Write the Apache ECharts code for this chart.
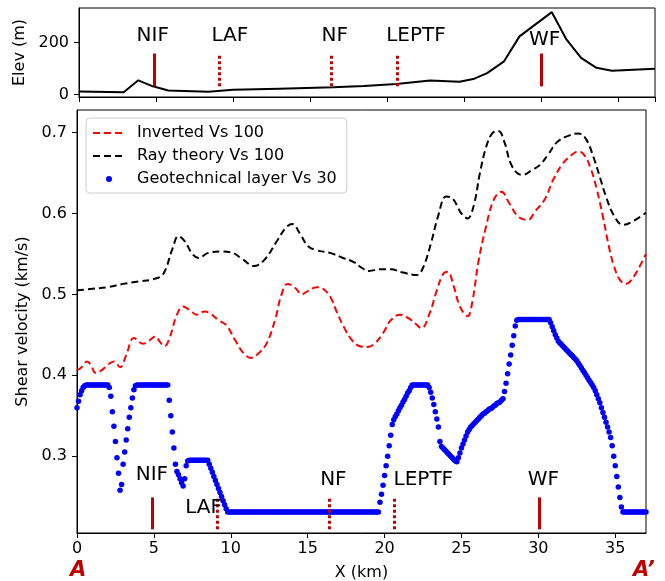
<!DOCTYPE html>
<html><head><meta charset="utf-8">
<script src="https://cdn.jsdelivr.net/npm/echarts@6/dist/echarts.min.js"></script>
<style>html,body{margin:0;padding:0;background:#fff}#c{width:665px;height:581px}</style>
</head><body><div id="c"></div>
<script>
// ---- Elevation profile (top panel) ----
const elevKm = [0, 2.9, 3.85, 4.8, 5.8, 8.4, 10.0, 13.0, 16.5, 18.5, 20.6, 22.8, 24.7, 25.6, 26.5, 27.6, 28.6, 30.7, 31.65, 32.6, 33.6, 34.6, 37.4];
const elevM  = [11, 8, 54, 31, 15, 10, 18, 22, 27, 32, 40, 53, 49, 59, 82, 127, 223, 316, 211, 140, 102, 91, 99];

// ---- Ray theory Vs 100 (black dashed) ----
const rayKm = [0,1,2,3,4,5,5.6,6.2,6.6,7.0,7.5,7.9,8.5,9.3,10.0,10.8,11.5,12.2,13.0,13.6,14.0,14.5,15.0,15.5,16.5,17.3,18.0,18.5,19.0,19.7,20.4,21.2,22.1,22.5,23.0,23.5,24.0,24.4,25.0,25.4,25.8,26.2,26.6,27.0,27.4,27.8,28.2,28.7,29.0,29.6,30.1,30.6,31.2,31.8,32.6,33.1,33.6,34.0,34.4,34.9,35.5,36.2,37.0];
const rayVs = [0.505,0.507,0.509,0.513,0.516,0.519,0.525,0.556,0.572,0.566,0.550,0.545,0.551,0.553,0.552,0.543,0.535,0.543,0.566,0.583,0.587,0.575,0.560,0.555,0.551,0.545,0.540,0.533,0.529,0.531,0.531,0.527,0.524,0.533,0.562,0.598,0.621,0.619,0.600,0.594,0.610,0.650,0.682,0.699,0.702,0.688,0.662,0.649,0.648,0.654,0.660,0.672,0.688,0.695,0.699,0.692,0.669,0.645,0.621,0.598,0.586,0.591,0.601];

// ---- Inverted Vs 100 (red dashed) ----
const invKm = [0,0.3,0.65,0.9,1.2,1.6,2.0,2.4,2.8,3.2,3.7,4.3,4.7,5.1,5.4,5.7,6.0,6.5,6.9,7.3,7.8,8.3,8.7,9.2,9.7,10.3,10.8,11.3,11.8,12.35,12.9,13.3,13.7,14.2,14.6,15.0,15.6,16.0,16.5,16.9,17.4,17.9,18.4,18.9,19.4,19.9,20.4,21.0,21.6,22.0,22.4,22.9,23.4,23.8,24.1,24.5,24.9,25.4,25.7,26.1,26.6,27.1,27.6,28.1,28.7,29.3,29.8,30.4,31.0,31.6,32.2,32.6,33.0,33.4,33.8,34.2,34.6,34.9,35.3,35.7,36.2,36.6,37.0];
const invVs = [0.406,0.410,0.417,0.413,0.403,0.406,0.413,0.417,0.410,0.425,0.446,0.439,0.443,0.448,0.441,0.436,0.445,0.475,0.485,0.481,0.475,0.479,0.476,0.468,0.462,0.443,0.428,0.4215,0.427,0.440,0.470,0.500,0.513,0.508,0.500,0.504,0.509,0.507,0.496,0.478,0.458,0.443,0.436,0.435,0.440,0.452,0.468,0.475,0.470,0.464,0.458,0.475,0.505,0.525,0.528,0.510,0.485,0.473,0.490,0.540,0.584,0.617,0.627,0.613,0.596,0.592,0.603,0.617,0.643,0.662,0.673,0.677,0.672,0.656,0.630,0.596,0.558,0.536,0.518,0.513,0.522,0.535,0.550];

// ---- Geotechnical layer Vs 30 (blue dots), sampled every 0.1 km from 0.0 km ----
const geoStartKm = 0.0, geoStepKm = 0.1;
const geoVs30 = [
0.360,0.368,0.376,0.381,0.385,0.387,0.388,0.388,0.388,0.388, // 0
0.388,0.388,0.388,0.388,0.388,0.388,0.388,0.388,0.388,0.388, // 1
0.388,0.385,0.374,0.355,0.337,0.318,0.298,0.279,0.258,0.265, // 2
0.290,0.305,0.320,0.334,0.348,0.360,0.372,0.382,0.387,0.388, // 3
0.388,0.388,0.388,0.388,0.388,0.388,0.388,0.388,0.388,0.388, // 4
0.388,0.388,0.388,0.388,0.388,0.388,0.388,0.388,0.388,0.388, // 5
0.369,0.350,0.330,0.310,0.290,0.281,0.277,0.272,0.267,0.263, // 6
0.272,0.288,0.294,0.295,0.295,0.295,0.295,0.295,0.295,0.295, // 7
0.295,0.295,0.295,0.295,0.295,0.295,0.290,0.285,0.280,0.275, // 8
0.270,0.265,0.260,0.255,0.250,0.245,0.240,0.235,0.231,0.231, // 9
0.231,0.231,0.231,0.231,0.231,0.231,0.231,0.231,0.231,0.231, // 10
0.231,0.231,0.231,0.231,0.231,0.231,0.231,0.231,0.231,0.231, // 11
0.231,0.231,0.231,0.231,0.231,0.231,0.231,0.231,0.231,0.231, // 12
0.231,0.231,0.231,0.231,0.231,0.231,0.231,0.231,0.231,0.231, // 13
0.231,0.231,0.231,0.231,0.231,0.231,0.231,0.231,0.231,0.231, // 14
0.231,0.231,0.231,0.231,0.231,0.231,0.231,0.231,0.231,0.231, // 15
0.231,0.231,0.231,0.231,0.231,0.231,0.231,0.231,0.231,0.231, // 16
0.231,0.231,0.231,0.231,0.231,0.231,0.231,0.231,0.231,0.231, // 17
0.231,0.231,0.231,0.231,0.231,0.231,0.231,0.231,0.231,0.231, // 18
0.231,0.231,0.231,0.231,0.231,0.231,0.231,0.243,0.253,0.264, // 19
0.276,0.288,0.300,0.313,0.326,0.339,0.345,0.349,0.352,0.356, // 20
0.360,0.363,0.367,0.370,0.374,0.378,0.381,0.385,0.388,0.388, // 21
0.388,0.388,0.388,0.388,0.388,0.388,0.388,0.388,0.388,0.385, // 22
0.379,0.372,0.364,0.355,0.346,0.336,0.318,0.312,0.310,0.308, // 23
0.306,0.304,0.302,0.300,0.298,0.296,0.294,0.293,0.298,0.304, // 24
0.310,0.315,0.320,0.325,0.330,0.333,0.336,0.338,0.340,0.342, // 25
0.344,0.346,0.348,0.350,0.352,0.353,0.355,0.356,0.358,0.359, // 26
0.360,0.362,0.363,0.365,0.366,0.367,0.369,0.371,0.380,0.390, // 27
0.402,0.414,0.425,0.437,0.449,0.461,0.468,0.469,0.469,0.469, // 28
0.469,0.469,0.469,0.469,0.469,0.469,0.469,0.469,0.469,0.469, // 29
0.469,0.469,0.469,0.469,0.469,0.469,0.469,0.469,0.465,0.460, // 30
0.455,0.450,0.446,0.442,0.440,0.438,0.436,0.434,0.432,0.430, // 31
0.428,0.426,0.424,0.422,0.420,0.418,0.415,0.412,0.409,0.406, // 32
0.403,0.400,0.397,0.394,0.391,0.388,0.385,0.381,0.376,0.371, // 33
0.366,0.360,0.354,0.348,0.342,0.336,0.330,0.323,0.313,0.300, // 34
0.288,0.275,0.262,0.249,0.237,0.231,0.231,0.231,0.231,0.231, // 35
0.231,0.231,0.231,0.231,0.231,0.231,0.231,0.231,0.231,0.231, // 36
0.231 // 37.0
];

// ---- Faults ----
const faultNames = ['NIF', 'LAF', 'NF', 'LEPTF', 'WF'];
const faultKm    = [4.9, 9.12, 16.38, 20.64, 30.03];
const faultSolid = [true, false, false, false, true];
const topMarkElev = [31, 157];
const botMarkVs   = [0.2095, 0.249];
const topLabelKm   = [4.79, 9.79, 16.6, 21.88, 30.24];
const topLabelElev = [226, 226, 226, 226, 211];
const botLabelKm   = [4.87, 8.23, 16.67, 22.52, 30.32];
const botLabelVs   = [0.277, 0.236, 0.271, 0.271, 0.271];

// ---- Axis ticks ----
const xTicks = [0, 5, 10, 15, 20, 25, 30, 35];
const vsTicks = [0.3, 0.4, 0.5, 0.6, 0.7];
const elevTicks = [0, 200];

const FONT = 'DejaVu Sans';
const FAULT_COLOR = '#c00000';
const zip = (a, b) => a.map((v, i) => [v, b[i]]);

function faultMarkLines(yRange) {
  return faultKm.map((x, i) => [
    { coord: [x, yRange[0]], lineStyle: { color: FAULT_COLOR, width: 3, type: faultSolid[i] ? 'solid' : [3, 2.5] } },
    { coord: [x, yRange[1]] }
  ]);
}
function labelData(xs, ys) {
  return faultNames.map((n, i) => ({ name: n, value: [xs[i], ys[i]] }));
}

const chart = echarts.init(document.getElementById('c'), null, { renderer: 'canvas' });
const axisCommon = {
  axisLine: { show: true, onZero: false, lineStyle: { color: '#000', width: 1 } },
  axisTick: { show: true, inside: false, length: 5, lineStyle: { color: '#000' } },
  splitLine: { show: false },
  axisLabel: { color: '#000', fontSize: 16, fontFamily: FONT },
  nameTextStyle: { color: '#000', fontSize: 16, fontFamily: FONT }
};
const labelStyle = { show: true, position: 'inside', formatter: '{b}', color: '#000', fontSize: 20, fontFamily: FONT, opacity: 1 };

chart.setOption({
  animation: false,
  backgroundColor: '#fff',
  textStyle: { fontFamily: FONT },
  grid: [
    { left: 79, top: 8, width: 576, height: 89, show: true, borderColor: '#000', borderWidth: 1, containLabel: false, outerBoundsMode: 'none' },
    { left: 77, top: 110, width: 569, height: 423, show: true, borderColor: '#000', borderWidth: 1, containLabel: false, outerBoundsMode: 'none' }
  ],
  xAxis: [
    Object.assign({}, axisCommon, { gridIndex: 0, type: 'value', min: 0, max: 37.4, interval: 5,
      axisLabel: { show: false } }),
    Object.assign({}, axisCommon, { gridIndex: 1, type: 'value', min: 0, max: 37, interval: 5,
      axisLabel: Object.assign({}, axisCommon.axisLabel, { margin: 8, customValues: xTicks }),
      axisTick: Object.assign({}, axisCommon.axisTick, { customValues: xTicks }),
      name: 'X (km)', nameLocation: 'middle', nameGap: 32 })
  ],
  yAxis: [
    Object.assign({}, axisCommon, { gridIndex: 0, type: 'value', min: -10, max: 332,
      axisLabel: Object.assign({}, axisCommon.axisLabel, { margin: 10, customValues: elevTicks }),
      axisTick: Object.assign({}, axisCommon.axisTick, { customValues: elevTicks }),
      name: 'Elev (m)', nameLocation: 'middle', nameGap: 38 }),
    Object.assign({}, axisCommon, { gridIndex: 1, type: 'value', min: 0.205, max: 0.728,
      axisLabel: Object.assign({}, axisCommon.axisLabel, { margin: 10, customValues: vsTicks, formatter: v => v.toFixed(1) }),
      axisTick: Object.assign({}, axisCommon.axisTick, { customValues: vsTicks }),
      name: 'Shear velocity (km/s)', nameLocation: 'middle', nameGap: 37 })
  ],
  legend: {
    orient: 'vertical', left: 86, top: 118,
    padding: [7, 10, 6, 6], itemGap: 7, itemWidth: 32, itemHeight: 6,
    backgroundColor: 'rgba(255,255,255,0.85)', borderColor: '#cccccc', borderWidth: 1, borderRadius: 4,
    textStyle: { fontSize: 16, color: '#000', fontFamily: FONT, padding: [0, 0, 0, 7] },
    data: [
      { name: 'Inverted Vs 100', itemStyle: { opacity: 0 } },
      { name: 'Ray theory Vs 100', itemStyle: { opacity: 0 } },
      { name: 'Geotechnical layer Vs 30', icon: 'circle', itemStyle: { opacity: 1 } }
    ]
  },
  series: [
    { name: 'Elevation', type: 'line', xAxisIndex: 0, yAxisIndex: 0, data: zip(elevKm, elevM),
      symbol: 'none', lineStyle: { color: '#000', width: 2 }, smooth: false, silent: true,
      markLine: { silent: true, symbol: 'none', label: { show: false }, animation: false, data: faultMarkLines(topMarkElev) } },
    { name: 'topLabels', type: 'scatter', xAxisIndex: 0, yAxisIndex: 0, symbolSize: 0, silent: true,
      itemStyle: { opacity: 1 }, data: labelData(topLabelKm, topLabelElev), label: labelStyle },
    { name: 'Geotechnical layer Vs 30', type: 'scatter', xAxisIndex: 1, yAxisIndex: 1,
      data: geoVs30.map((v, i) => [+(geoStartKm + i * geoStepKm).toFixed(2), v]),
      symbol: 'circle', symbolSize: 5.5, itemStyle: { color: '#0000ff', opacity: 1 }, silent: true, z: 2,
      markLine: { silent: true, symbol: 'none', label: { show: false }, animation: false, data: faultMarkLines(botMarkVs) } },
    { name: 'Inverted Vs 100', type: 'line', xAxisIndex: 1, yAxisIndex: 1, data: zip(invKm, invVs),
      symbol: 'none', smooth: 0.4, lineStyle: { color: '#ff0000', width: 2, type: [7, 4] }, itemStyle: { color: '#ff0000' }, silent: true, z: 3 },
    { name: 'Ray theory Vs 100', type: 'line', xAxisIndex: 1, yAxisIndex: 1, data: zip(rayKm, rayVs),
      symbol: 'none', smooth: 0.4, lineStyle: { color: '#000000', width: 2, type: [7, 4] }, itemStyle: { color: '#000000' }, silent: true, z: 3 },
    { name: 'botLabels', type: 'scatter', xAxisIndex: 1, yAxisIndex: 1, symbolSize: 0, silent: true, z: 5,
      itemStyle: { opacity: 1 }, data: labelData(botLabelKm, botLabelVs), label: labelStyle }
  ],
  graphic: [
    { type: 'text', left: 70, top: 560, style: { text: 'A', fill: FAULT_COLOR, font: 'italic bold 21px "DejaVu Sans"' } },
    { type: 'text', left: 633, top: 560, style: { text: 'A\u2019', fill: FAULT_COLOR, font: 'italic bold 21px "DejaVu Sans"' } }
  ]
});
</script>
</body></html>
